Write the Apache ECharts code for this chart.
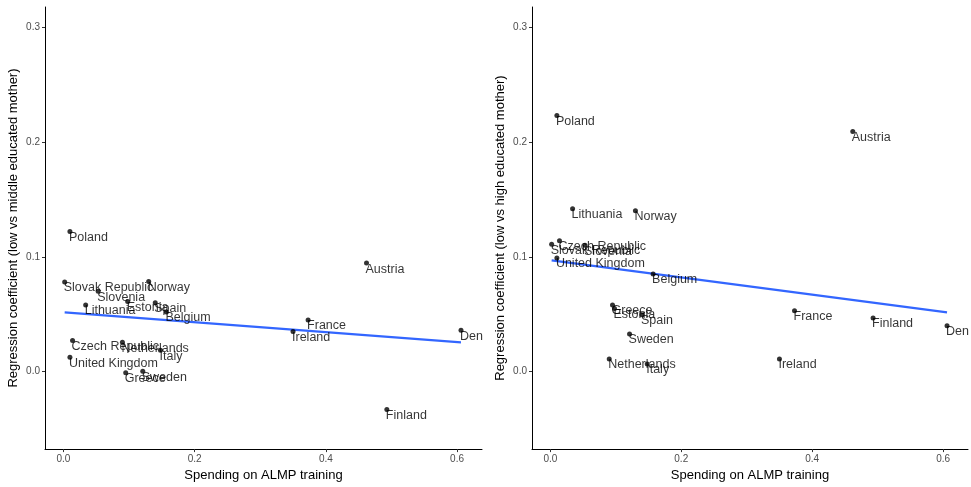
<!DOCTYPE html>
<html>
<head>
<meta charset="utf-8">
<script src="https://cdn.jsdelivr.net/npm/echarts@6/dist/echarts.min.js"></script>
<style>
html,body{margin:0;padding:0;background:#fff;}
#chart{width:971px;height:487px;}
</style>
</head>
<body>
<div id="chart"></div>
<script>
const countries = ['Poland','Slovak Republic','Slovenia','Norway','Lithuania','Estonia','Spain','Belgium','Czech Republic','Netherlands','Italy','United Kingdom','Greece','Sweden','Austria','France','Ireland','Denmark','Finland'];
const spending = [0.010,0.002,0.053,0.130,0.034,0.098,0.140,0.157,0.014,0.090,0.148,0.010,0.095,0.121,0.462,0.373,0.350,0.606,0.493];
const coefMiddle = [0.122,0.078,0.070,0.0785,0.058,0.061,0.060,0.052,0.027,0.0255,0.0185,0.0125,-0.001,0.0003,0.0945,0.045,0.035,0.036,-0.033];
const coefHigh = [0.223,0.111,0.110,0.140,0.1417,0.055,0.0496,0.085,0.114,0.011,0.0067,0.099,0.058,0.0328,0.209,0.053,0.011,0.040,0.0467];
const fitX = [0.002, 0.606];
const fitMiddle = [0.0516, 0.0255];
const fitHigh = [0.0968, 0.0516];
const xTicks = [0, 0.2, 0.4, 0.6];
const yTicks = [0, 0.1, 0.2, 0.3];
const xTitle = 'Spending on ALMP training';
const yTitleLeft = 'Regression coefficient (low vs middle educated mother)';
const yTitleRight = 'Regression coefficient (low vs high educated mother)';

const FONT = '"Liberation Sans", Arial, sans-serif';

function pts(ys) {
  return countries.map((c, i) => {
    const d = { name: c, value: [spending[i], ys[i]] };
    if (c === 'Denmark') {
      d.label = { width: 30, overflow: 'truncate', ellipsis: '' };
    }
    return d;
  });
}
function line(ys) { return fitX.map((x, i) => [x, ys[i]]); }

function xAxis(idx) {
  return {
    gridIndex: idx, type: 'value', min: -0.028, max: 0.638,
    name: xTitle, nameLocation: 'middle', nameGap: 17,
    nameTextStyle: { color: '#000', fontSize: 13, fontFamily: FONT },
    splitLine: { show: false },
    axisLine: { show: true, onZero: false, lineStyle: { color: '#000', width: 1 } },
    axisTick: { show: true, length: 3, customValues: xTicks, lineStyle: { color: '#333' } },
    axisLabel: { customValues: xTicks, color: '#4d4d4d', fontSize: 10, fontFamily: FONT, margin: 5,
      formatter: v => v.toFixed(1) }
  };
}
function yAxis(idx, title, gap) {
  return {
    gridIndex: idx, type: 'value', min: -0.0675, max: 0.3175,
    name: title, nameLocation: 'middle', nameGap: gap,
    nameTextStyle: { color: '#000', fontSize: 13, fontFamily: FONT },
    splitLine: { show: false },
    axisLine: { show: true, onZero: false, lineStyle: { color: '#000', width: 1 } },
    axisTick: { show: true, length: 3, customValues: yTicks, lineStyle: { color: '#333' } },
    axisLabel: { customValues: yTicks, color: '#4d4d4d', fontSize: 10, fontFamily: FONT, margin: 5,
      formatter: v => v.toFixed(1) }
  };
}
function scatter(idx, ys) {
  return {
    type: 'scatter', xAxisIndex: idx, yAxisIndex: idx, data: pts(ys),
    symbolSize: 5, itemStyle: { color: '#000' }, z: 3,
    label: { show: true, formatter: p => p.name, position: [1.5, 2], align: 'left', verticalAlign: 'top',
      color: '#000', fontSize: 12.5, fontFamily: FONT },
    emphasis: { disabled: true }, animation: false
  };
}
function fit(idx, ys) {
  return {
    type: 'line', xAxisIndex: idx, yAxisIndex: idx, data: line(ys),
    symbol: 'none', lineStyle: { color: '#3366FF', width: 2.2 }, z: 2, animation: false
  };
}

const chart = echarts.init(document.getElementById('chart'));
chart.setOption({
  backgroundColor: '#fff',
  animation: false,
  grid: [
    { left: 45, right: 489, top: 7, bottom: 37 },
    { left: 532, right: 3, top: 7, bottom: 37 }
  ],
  xAxis: [xAxis(0), xAxis(1)],
  yAxis: [yAxis(0, yTitleLeft, 25), yAxis(1, yTitleRight, 25)],
  series: [scatter(0, coefMiddle), fit(0, fitMiddle), scatter(1, coefHigh), fit(1, fitHigh)]
});
</script>
</body>
</html>
